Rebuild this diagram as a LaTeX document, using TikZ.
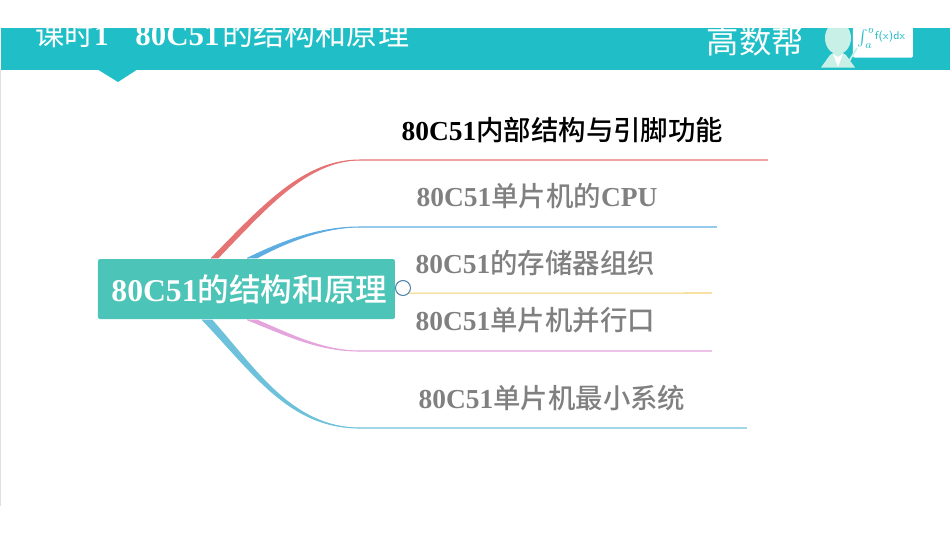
\documentclass[tikz,border=0pt]{standalone}
\usepackage{fontspec}
\setmainfont{Liberation Serif}
\newfontfamily\cjk{Noto Sans CJK SC}
\newfontfamily\cjkmed{Noto Sans CJK SC Medium}
\usetikzlibrary{calc}
\definecolor{banner}{HTML}{20BEC6}
\definecolor{rootfill}{HTML}{4DC4B8}
\definecolor{pale}{HTML}{C9F0E6}
\definecolor{redline}{HTML}{E57373}
\definecolor{blueline}{HTML}{5DADE2}
\definecolor{yelline}{HTML}{F5CF6F}
\definecolor{pinkline}{HTML}{E3A5DC}
\definecolor{cyanline}{HTML}{6EC1DA}
\definecolor{knobline}{HTML}{4F81A8}
\newcommand{\mixed}[2]{{\bfseries #1}{\cjkmed #2}}
% colour, anchor, two offsets on the box edge, two controls, knee, end, shift of the inner side
\newcommand{\branch}[9]{
\coordinate (a) at ($(#2)+(#3,0)$);
\coordinate (b) at ($(#2)+(#4,0)$);
\fill[#1] (a) .. controls #5 and #6 .. (#7) .. controls ($#6+0.5*(#9)$) and ($#5+(#9)$) .. (b) -- cycle;
\draw[#1,line width=0.3pt] (a) .. controls #5 and #6 .. (#7) -- (#8);
}
\tikzset{
  lbl/.style={anchor=west,inner sep=0pt,text=black!50,font=\fontsize{7.8}{9}\selectfont},
  rootbox/.style={fill=rootfill,rounded corners=0.6pt,inner sep=0pt,minimum width=297*0.01cm,minimum height=60*0.01cm,text=white,font=\fontsize{9}{11}\selectfont}
}
\begin{document}
\begin{tikzpicture}[x=0.01cm,y=-0.01cm]
\useasboundingbox (0,0) rectangle (950,535);
\fill[black!12] (0,69) rectangle (1,506);
\fill[banner] (1,28) rectangle (950,69.5);
\fill[banner] (97,69) -- (118,82) -- (138,69) -- cycle;
\begin{scope}
\clip (0,28) rectangle (950,70);
\node[anchor=west,inner sep=0pt,text=white,font=\fontsize{8.3}{10}\selectfont] (title) at (35,34) {{\cjk 课时}\textbf{1}\hspace{7.6pt}\textbf{\fontsize{8.8}{10}\selectfont 80C51}\hspace{0.8pt}{\cjk\fontsize{8.85}{10}\selectfont 的结构和原理}};
\node[anchor=west,inner sep=0pt,text=white,font=\fontsize{9.2}{11}\selectfont] (brand) at (706,41) {\cjk 高数帮};
% the little teacher
\fill[pale] (838,38) ellipse (13 and 16);
\fill[pale] (821,67.5) -- (830,55) -- (838,50) -- (846,55) -- (855,67.5) -- cycle;
\fill[white] (838,67) -- (833,54) -- (838,57) -- (843,54) -- cycle;
\fill[white,rounded corners=0.4pt] (853,20) rectangle (913,57.5);
\draw[pale,line width=0.5pt] (857,48) -- (848,63);
\node[inner sep=0pt,text=banner,font=\sffamily\fontsize{3.2}{4}\selectfont] (fx) at (890,37) {f(x)dx};
\node[inner sep=0pt,text=banner,scale=0.45] (intg) at (866,37) {$\int_a^b$};
\end{scope}
\node[rootbox] (root) at (246.5,289) {\hspace*{1.7pt}\mixed{80C51}{的结构和原理}};
\coordinate (redknee) at (360,160);
\coordinate (redend) at (768,160);
\coordinate (blueknee) at (360,227);
\coordinate (blueend) at (717,227);
\coordinate (yelend) at (712,293);
\coordinate (pinkknee) at (360,351);
\coordinate (pinkend) at (712,351);
\coordinate (cyanknee) at (360,428);
\coordinate (cyanend) at (747,428);
\branch{redline}{root.north west}{114}{121}{(265,203)}{(305,160)}{redknee}{redend}{3,4}
\branch{blueline}{root.north west}{150}{160}{(285,240)}{(320,227)}{blueknee}{blueend}{1,3}
\branch{pinkline}{root.south west}{150}{160}{(290,337)}{(320,351)}{pinkknee}{pinkend}{1,-3}
\branch{cyanline}{root.south west}{105}{115}{(255,375)}{(290,428)}{cyanknee}{cyanend}{3,-4}
\node[circle,draw=knobline,fill=white,line width=0.3pt,minimum size=15*0.01cm,inner sep=0pt] (knob) at (403,288) {};
\draw[yelline,line width=0.3pt] (knob.-40) -- (yelend);
\node[lbl,text=black] (t1) at (401,130) {\mixed{80C51}{内部结构与引脚功能}};
\node[lbl] (t2) at (416,196) {\mixed{80C51}{单片机的}\textbf{CPU}};
\node[lbl] (t3) at (415,263) {\mixed{80C51}{的存储器组织}};
\node[lbl] (t4) at (415,320) {\mixed{80C51}{单片机并行口}};
\node[lbl] (t5) at (418,398) {\mixed{80C51}{单片机最小系统}};
\end{tikzpicture}
\end{document}
